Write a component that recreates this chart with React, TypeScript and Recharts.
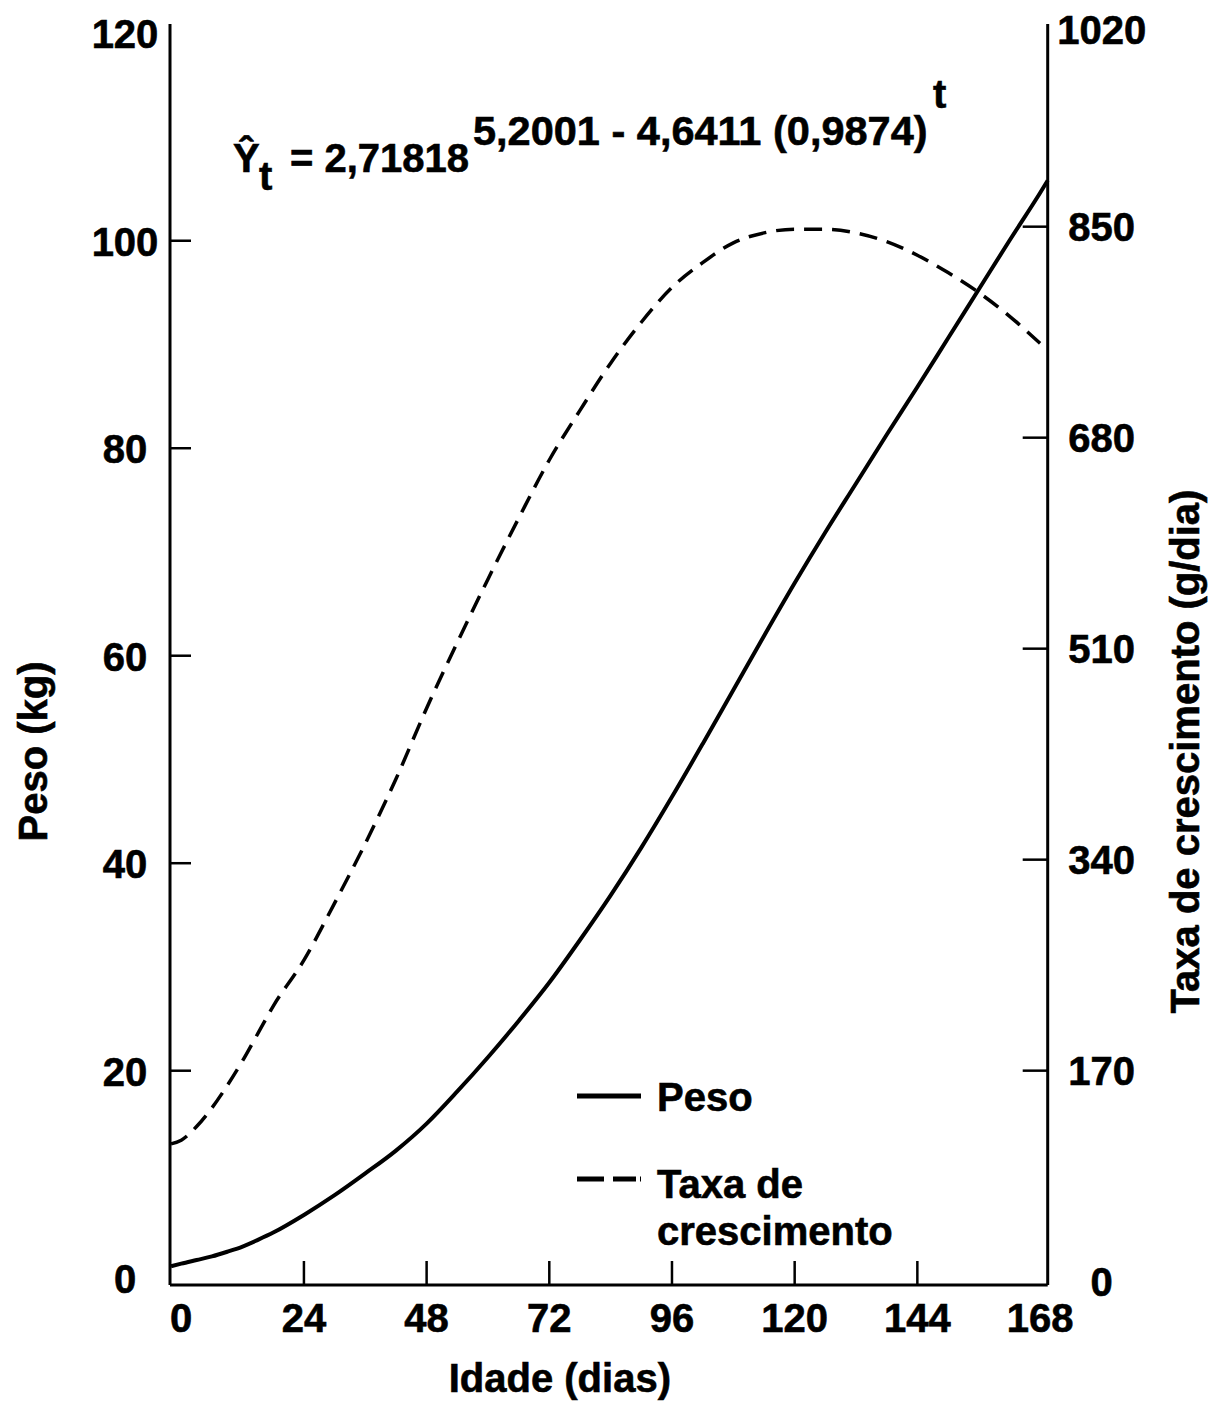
import React from 'react';
import { LineChart, Line, XAxis, YAxis, Legend } from 'recharts';

// idade (dias) dos pontos
const days = [-2, 0, 3, 6, 9, 12, 15, 18, 24, 30, 36, 42, 48, 54, 60, 66, 72, 78, 84, 90, 96, 102, 108, 114, 120, 126, 132, 138, 144, 150, 156, 162, 168, 169.5];
// peso (kg) - eixo esquerdo
const peso = [1.15, 1.4, 1.75, 2.1, 2.55, 3.05, 3.7, 4.4, 6.1, 8.0, 10.1, 12.3, 14.9, 18.0, 21.3, 24.8, 28.5, 32.6, 36.9, 41.5, 46.4, 51.5, 56.7, 61.9, 67.0, 71.9, 76.6, 81.3, 85.9, 90.6, 95.3, 100.0, 104.6, 105.8];
// taxa de crescimento (g/dia) - eixo direito
const taxa = [111, 114, 125, 140, 158, 178, 200, 222, 259, 305, 353, 405, 462, 515, 566, 615, 662, 702, 740, 773, 801, 821, 837, 845, 848, 848, 845, 838, 827, 813, 797, 778, 756, null];

const diasTicks = [0, 24, 48, 72, 96, 120, 144, 168];
const pesoTicks = [0, 20, 40, 60, 80, 100, 120];
const taxaTicks = [0, 170, 340, 510, 680, 850, 1020];

const FONT = "'Liberation Sans', Arial, Helvetica, sans-serif";
const textStyle: React.CSSProperties = { fontFamily: FONT, fontWeight: 700, fontSize: 40, fill: '#000', stroke: '#000', strokeWidth: 0.6 };

const data = days.map((t, i) => ({ t, peso: peso[i], taxa: taxa[i] }));

const inner = (v: number, arr: number[]) => v !== arr[0] && v !== arr[arr.length - 1];

const LeftTick = (props: any) => {
  const { x, y, payload } = props;
  const v = payload.value;
  return (
    <g>
      {inner(v, pesoTicks) && <line x1={x} x2={x + 21} y1={y} y2={y} stroke="#000" strokeWidth={2.5} />}
      <text x={x - 45} y={y + 1} textAnchor="middle" dominantBaseline="central" style={textStyle}>{v}</text>
    </g>
  );
};

const RightTick = (props: any) => {
  const { x, y, payload } = props;
  const v = payload.value;
  return (
    <g>
      {inner(v, taxaTicks) && <line x1={x - 25} x2={x} y1={y} y2={y} stroke="#000" strokeWidth={2.5} />}
      <text x={x + 54} y={Math.max(y, 30)} textAnchor="middle" dominantBaseline="central" style={textStyle}>{v}</text>
    </g>
  );
};

const BottomTick = (props: any) => {
  const { x, y, payload } = props;
  const v = payload.value;
  return (
    <g>
      {inner(v, diasTicks) && <line x1={x} x2={x} y1={y - 24} y2={y} stroke="#000" strokeWidth={2.5} />}
      <text x={x} y={y + 33} textAnchor="middle" dominantBaseline="central" style={textStyle}>{v}</text>
    </g>
  );
};

const legendDash: Record<string, string | undefined> = { peso: undefined, taxa: '27 9 23 4 3 60' };

const LegendBox = (props: any) => {
  const items = props.payload || [];
  return (
    <div style={{ fontFamily: FONT, fontWeight: 700, fontSize: 40, color: '#000', lineHeight: '47px', WebkitTextStroke: '0.6px #000' }}>
      {items.map((it: any, i: number) => (
        <div key={it.value} style={{ display: 'flex', alignItems: 'flex-start', marginTop: i ? 40 : 0 }}>
          <svg width={80} height={47}>
            <line x1={0} x2={64} y1={i ? 18 : 22} y2={i ? 18 : 22} stroke="#000" strokeWidth={5} strokeDasharray={legendDash[it.dataKey]} />
          </svg>
          <div style={{ width: 260 }}>{it.value}</div>
        </div>
      ))}
    </div>
  );
};

export default function App() {
  return (
    <div style={{ position: 'absolute', left: 0, top: 0, width: 1210, height: 1402, background: '#fff' }}>
      <LineChart width={1210} height={1402} data={data} margin={{ top: 24, right: 0, bottom: 0, left: 0 }}>
        <XAxis
          type="number"
          dataKey="t"
          domain={[-2.2, 169.5]}
          ticks={diasTicks}
          interval={0}
          height={117}
          tickSize={0}
          tickMargin={0}
          tickLine={false}
          tick={<BottomTick />}
          axisLine={{ stroke: '#000', strokeWidth: 3 }}
          label={{ value: 'Idade (dias)', position: 'insideBottom', offset: 10, dx: -49, style: textStyle }}
        />
        <XAxis
          xAxisId="top"
          orientation="top"
          type="number"
          dataKey="t"
          domain={[-2.2, 169.5]}
          height={0}
          tick={false}
          tickLine={false}
          axisLine={{ stroke: '#000', strokeWidth: 3 }}
        />
        <YAxis
          yAxisId="left"
          type="number"
          domain={[-0.655, 120.89]}
          ticks={pesoTicks}
          interval={0}
          width={170}
          tickSize={0}
          tickMargin={0}
          tickLine={false}
          tick={<LeftTick />}
          axisLine={{ stroke: '#000', strokeWidth: 3 }}
          label={{ value: 'Peso (kg)', angle: -90, position: 'insideLeft', offset: 33, dy: 97, style: { ...textStyle, textAnchor: 'middle' } }}
        />
        <YAxis
          yAxisId="right"
          orientation="right"
          type="number"
          domain={[-2.7, 1013.3]}
          ticks={taxaTicks}
          interval={0}
          width={162.3}
          tickSize={0}
          tickMargin={0}
          tickLine={false}
          tick={<RightTick />}
          axisLine={{ stroke: '#000', strokeWidth: 3 }}
          label={{ value: 'Taxa de crescimento (g/dia)', angle: -90, position: 'insideRight', offset: 25, dy: 97, style: { ...textStyle, textAnchor: 'middle' } }}
        />
        <Line
          yAxisId="left"
          type="monotone"
          dataKey="peso"
          name="Peso"
          stroke="#000"
          strokeWidth={4}
          dot={false}
          isAnimationActive={false}
        />
        <Line
          yAxisId="right"
          type="monotone"
          dataKey="taxa"
          name="Taxa de crescimento"
          stroke="#000"
          strokeWidth={3.5}
          strokeDasharray="18 10"
          dot={false}
          isAnimationActive={false}
        />
        <Legend
          layout="horizontal"
          verticalAlign="middle"
          align="center"
          content={<LegendBox />}
          wrapperStyle={{ position: 'absolute', left: 577, top: 1074, width: 400 }}
        />
      </LineChart>
      <svg width={1210} height={1402} style={{ position: 'absolute', left: 0, top: 0, pointerEvents: 'none' }}>
        <text x={233} y={172} style={textStyle}>Ŷ</text>
        <text x={259} y={190} style={textStyle}>t</text>
        <text x={290} y={172} style={textStyle}>= 2,71818</text>
        <text x={473} y={145} style={{ ...textStyle, fontSize: 41.5 }}>5,2001 - 4,6411 (0,9874)</text>
        <text x={933} y={108} style={textStyle}>t</text>
      </svg>
    </div>
  );
}
